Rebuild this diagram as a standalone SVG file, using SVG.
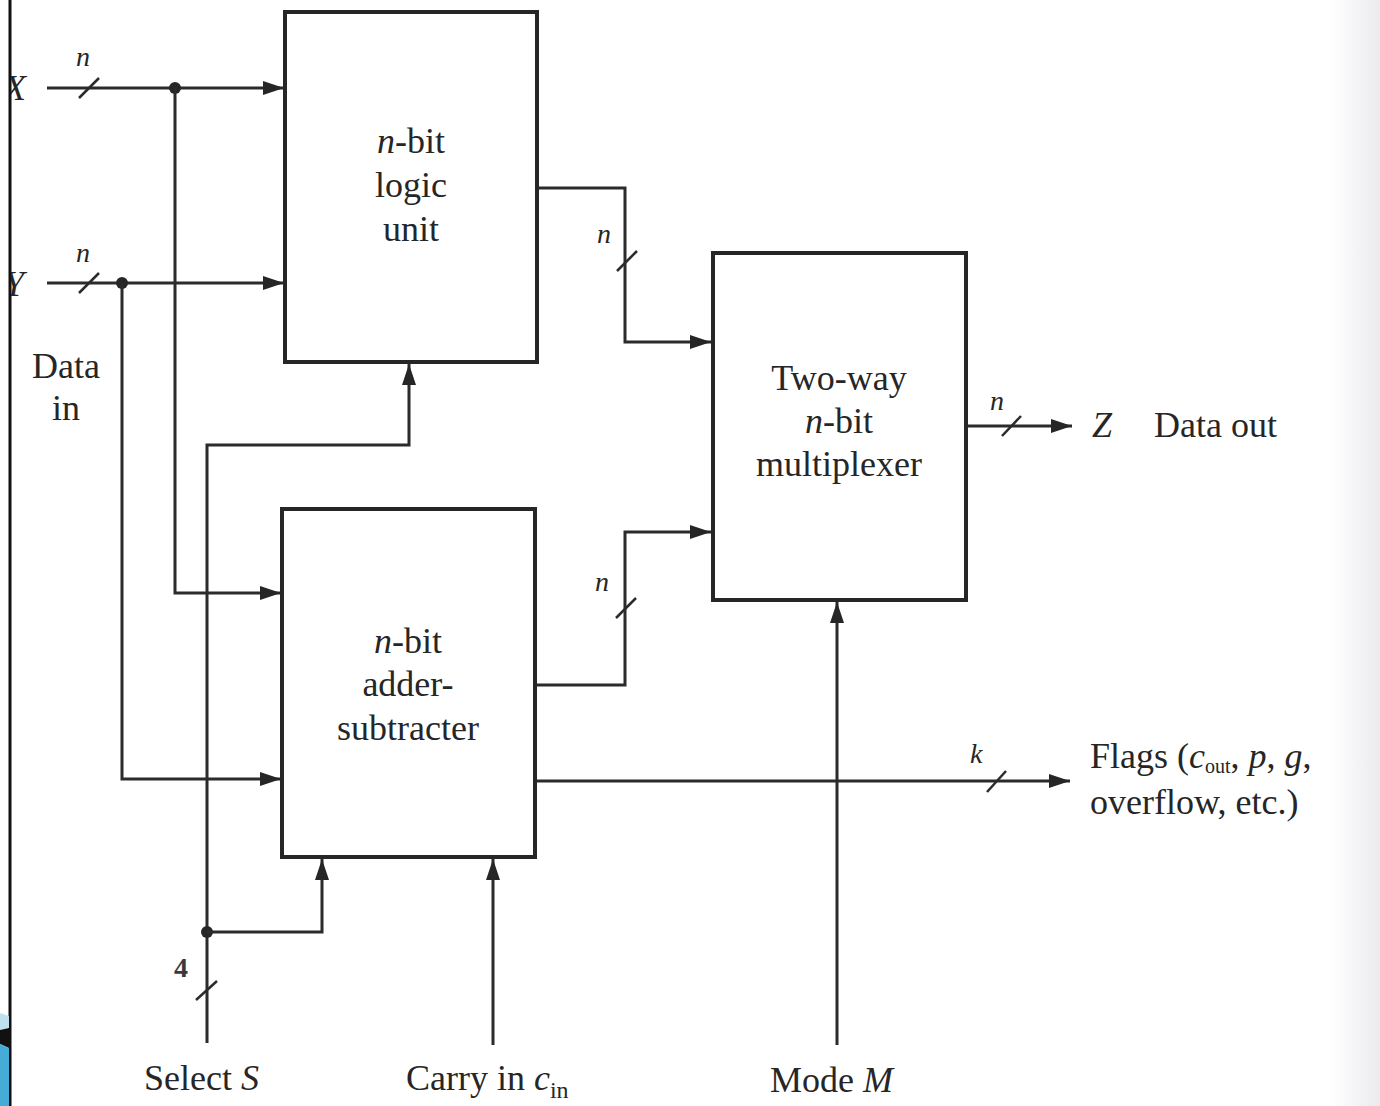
<svg xmlns="http://www.w3.org/2000/svg" width="1380" height="1106" viewBox="0 0 1380 1106">
<style>
.box{fill:#fff;stroke:#262626;stroke-width:4}
.w{fill:none;stroke:#2b2b2b;stroke-width:3}
.sl{stroke:#2b2b2b;stroke-width:2.5}
.t{font-family:"Liberation Serif","DejaVu Serif",serif;font-size:36px;fill:#262626}
.c{text-anchor:middle}
.i{font-style:italic}
.lab{font-family:"Liberation Serif","DejaVu Serif",serif;font-size:28px;font-style:italic;fill:#262626}
.num{font-family:"Liberation Serif","DejaVu Serif",serif;font-size:28px;font-weight:bold;fill:#3a3a3a}
.dot{fill:#262626}
</style>
<defs>
<marker id="ah" markerUnits="userSpaceOnUse" markerWidth="22" markerHeight="16" refX="21" refY="7" orient="auto">
<path d="M0,0 L21,7 L0,14 z" fill="#262626"/>
</marker>
<clipPath id="edge"><rect x="11" y="0" width="60" height="1106"/></clipPath>
<linearGradient id="rg" x1="0" y1="0" x2="1" y2="0">
<stop offset="0" stop-color="#ffffff"/>
<stop offset="1" stop-color="#ebebef"/>
</linearGradient>
</defs>
<rect x="0" y="0" width="1380" height="1106" fill="#fff"/>
<rect x="1330" y="0" width="50" height="1106" fill="url(#rg)"/>

<g id="frame">
<line x1="10" y1="0" x2="10" y2="1106" stroke="#111" stroke-width="3"/>
<polygon points="0,1013 9,1016 9,1028 0,1030" fill="#bfe1ef"/>
<polygon points="0,1030 9,1028 9,1048 0,1044" fill="#111"/>
<polygon points="0,1044 9,1048 9,1106 0,1106" fill="#45acd8"/>
</g>

<g id="connectors">
<!-- X input -->
<line class="w" x1="47" y1="88" x2="284" y2="88" marker-end="url(#ah)"/>
<line class="sl" x1="79" y1="98" x2="99" y2="78"/>
<text class="lab" x="76" y="66">n</text>
<circle class="dot" cx="175" cy="88" r="6"/>
<polyline class="w" points="175,88 175,593 281,593" marker-end="url(#ah)"/>
<!-- Y input -->
<line class="w" x1="47" y1="283" x2="284" y2="283" marker-end="url(#ah)"/>
<line class="sl" x1="79" y1="293" x2="99" y2="273"/>
<text class="lab" x="76" y="262">n</text>
<circle class="dot" cx="122" cy="283" r="6"/>
<polyline class="w" points="122,283 122,779 281,779" marker-end="url(#ah)"/>
<!-- Select S -->
<polyline class="w" points="207,1043 207,445 409,445 409,364" marker-end="url(#ah)"/>
<circle class="dot" cx="207" cy="932" r="6"/>
<polyline class="w" points="207,932 322,932 322,859" marker-end="url(#ah)"/>
<line class="sl" x1="196" y1="1000" x2="217" y2="981"/>
<text class="num" x="174" y="977">4</text>
<!-- Carry in -->
<line class="w" x1="493" y1="1045" x2="493" y2="859" marker-end="url(#ah)"/>
<!-- Mode M -->
<line class="w" x1="837" y1="1045" x2="837" y2="602" marker-end="url(#ah)"/>
<!-- logic unit to mux -->
<polyline class="w" points="537,188 625,188 625,342 711,342" marker-end="url(#ah)"/>
<line class="sl" x1="617" y1="271" x2="637" y2="251"/>
<text class="lab" x="597" y="243">n</text>
<!-- adder to mux -->
<polyline class="w" points="535,685 625,685 625,532 711,532" marker-end="url(#ah)"/>
<line class="sl" x1="616" y1="618" x2="636" y2="598"/>
<text class="lab" x="595" y="591">n</text>
<!-- flags -->
<line class="w" x1="535" y1="781" x2="1070" y2="781" marker-end="url(#ah)"/>
<line class="sl" x1="987" y1="792" x2="1006" y2="771"/>
<text class="lab" x="970" y="763">k</text>
<!-- mux output -->
<line class="w" x1="966" y1="426" x2="1072" y2="426" marker-end="url(#ah)"/>
<line class="sl" x1="1002" y1="436" x2="1021" y2="416"/>
<text class="lab" x="990" y="410">n</text>
</g>

<g id="logic-unit">
<rect class="box" x="285" y="12" width="252" height="350"/>
<text class="t c" x="411" y="153"><tspan class="i">n</tspan>-bit</text>
<text class="t c" x="411" y="197">logic</text>
<text class="t c" x="411" y="241">unit</text>
</g>

<g id="adder-subtracter">
<rect class="box" x="282" y="509" width="253" height="348"/>
<text class="t c" x="408" y="653"><tspan class="i">n</tspan>-bit</text>
<text class="t c" x="408" y="696">adder-</text>
<text class="t c" x="408" y="740">subtracter</text>
</g>

<g id="multiplexer">
<rect class="box" x="713" y="253" width="253" height="347"/>
<text class="t c" x="839" y="390">Two-way</text>
<text class="t c" x="839" y="433"><tspan class="i">n</tspan>-bit</text>
<text class="t c" x="839" y="476">multiplexer</text>
</g>

<g id="labels">
<g clip-path="url(#edge)">
<text class="t i" x="4" y="100">X</text>
<text class="t i" x="4" y="296">Y</text>
</g>
<text class="t c" x="66" y="378">Data</text>
<text class="t c" x="66" y="420">in</text>
<text class="t" x="144" y="1090">Select <tspan class="i">S</tspan></text>
<text class="t" x="406" y="1090">Carry in <tspan class="i">c</tspan><tspan font-size="24" dy="8">in</tspan></text>
<text class="t" x="770" y="1092">Mode <tspan class="i">M</tspan></text>
<text class="t i" x="1092" y="437">Z</text>
<text class="t" x="1154" y="437">Data out</text>
<text class="t" x="1090" y="768" font-size="32">Flags (<tspan class="i">c</tspan><tspan font-size="20" dy="5">out</tspan><tspan dy="-5">, </tspan><tspan class="i">p</tspan>, <tspan class="i">g</tspan>,</text>
<text class="t" x="1090" y="814" font-size="32">overflow, etc.)</text>
</g>
</svg>
